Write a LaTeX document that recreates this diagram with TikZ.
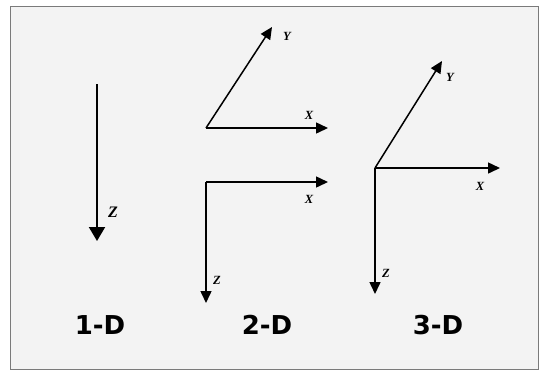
\documentclass[tikz,border=0pt]{standalone}
\usepackage{fontspec}
\newfontfamily\headfont{DejaVu Sans}
\newfontfamily\axfont{Liberation Serif}
\usetikzlibrary{arrows.meta}
\definecolor{bgfill}{HTML}{F3F3F3}
\definecolor{framecol}{HTML}{7A7A7A}
\tikzset{
  axis/.style={line width=1.5bp, -{Triangle[length=12bp,width=11bp]}},
  bigaxis/.style={line width=2bp, -{Triangle[length=14bp,width=16bp]}},
  axlabel/.style={font=\axfont\bfseries\itshape\fontsize{12.5bp}{14bp}\selectfont, inner sep=0pt},
  biglabel/.style={font=\axfont\bfseries\itshape\fontsize{16bp}{18bp}\selectfont, inner sep=0pt},
  dimlabel/.style={font=\headfont\bfseries\fontsize{26bp}{30bp}\selectfont, inner sep=0pt}
}
\begin{document}
\begin{tikzpicture}[x=1bp,y=-1bp]
\useasboundingbox (0,0) rectangle (539,370);
\draw[framecol, line width=1bp, fill=bgfill] (10.5,6) rectangle (538.5,369);
% 1-D
\coordinate (a0) at (97,84);
\coordinate (az) at (97,241);
\draw[bigaxis] (a0) -- (az);
\node[biglabel] (lz1) at (113,212) {Z};
\node[dimlabel] (d1) at (100,325) {1-D};
% 2-D upper
\coordinate (b0) at (206,128);
\coordinate (by) at (272,27);
\coordinate (bx) at (328,128);
\draw[axis] (b0) -- (by);
\draw[axis] (b0) -- (bx);
\node[axlabel] (lyb) at (287,36) {Y};
\node[axlabel] (lxb) at (309,115) {X};
% 2-D lower
\coordinate (c0) at (206,182);
\coordinate (cx) at (328,182);
\coordinate (cz) at (206,303);
\draw[axis] (c0) -- (cx);
\draw[axis] (c0) -- (cz);
\node[axlabel] (lxc) at (309,199) {X};
\node[axlabel] (lzc) at (217,280) {Z};
\node[dimlabel] (d2) at (267,325) {2-D};
% 3-D
\coordinate (e0) at (375,168);
\coordinate (ey) at (442,61);
\coordinate (ex) at (500,168);
\coordinate (ez) at (375,294);
\draw[axis] (e0) -- (ey);
\draw[axis] (e0) -- (ex);
\draw[axis] (e0) -- (ez);
\node[axlabel] (lye) at (450,77) {Y};
\node[axlabel] (lxe) at (480,186) {X};
\node[axlabel] (lze) at (386,273) {Z};
\node[dimlabel] (d3) at (438,325) {3-D};
\end{tikzpicture}
\end{document}
